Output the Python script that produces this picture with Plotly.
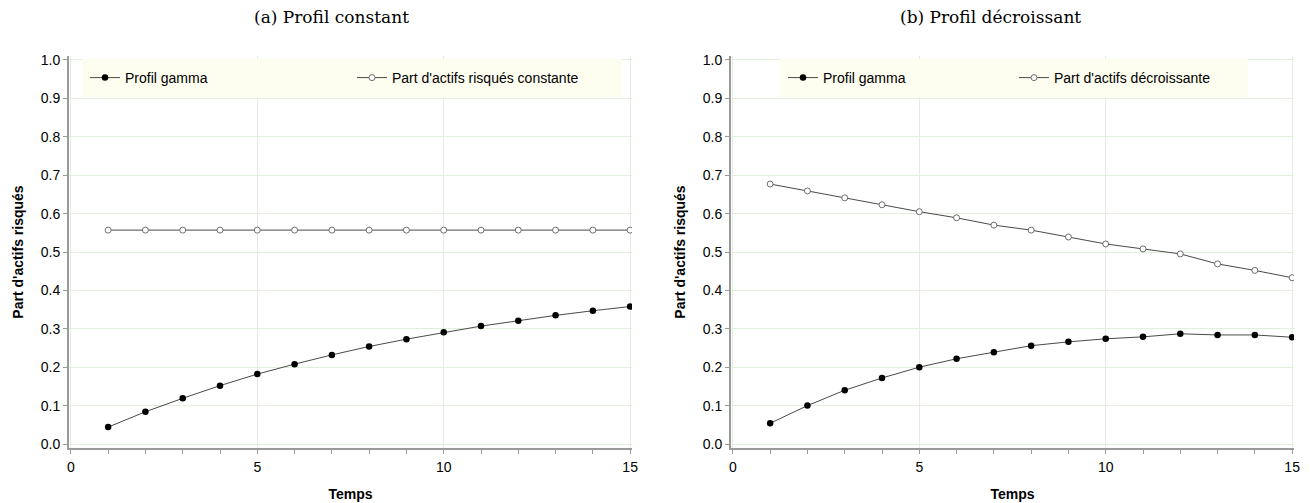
import plotly.graph_objects as go

temps = list(range(1, 16))
gamma_a = [0.044, 0.084, 0.119, 0.152, 0.182, 0.208, 0.232, 0.254, 0.273, 0.291,
           0.307, 0.321, 0.335, 0.347, 0.358]
constante = [0.557] * 15
gamma_b = [0.054, 0.100, 0.140, 0.172, 0.200, 0.222, 0.239, 0.256, 0.266, 0.274,
           0.279, 0.287, 0.284, 0.284, 0.278]
decroissante = [0.677, 0.659, 0.641, 0.623, 0.605, 0.589, 0.570, 0.557, 0.539, 0.521,
                0.508, 0.495, 0.469, 0.452, 0.433]

titles = ["(a) Profil constant", "(b) Profil décroissant"]
x_ticks = [0, 5, 10, 15]
y_ticks = [round(0.1 * i, 1) for i in range(11)]

FONT = "Liberation Sans"
LINE = "#4a4a4a"
GRID = "#e2efdf"
AXIS = "#9a9a9a"
LEG_BG = "#fdfdf0"

fig = go.Figure()

def add_pair(gamma, other, other_name, xa, ya, leg):
    fig.add_trace(go.Scatter(
        x=temps, y=gamma, mode="lines+markers", name="Profil gamma",
        line=dict(color=LINE, width=1),
        marker=dict(color="black", size=6.5, symbol="circle"),
        xaxis=xa, yaxis=ya, legend=leg))
    fig.add_trace(go.Scatter(
        x=temps, y=other, mode="lines+markers", name=other_name,
        line=dict(color=LINE, width=1),
        marker=dict(color="white", size=6, symbol="circle",
                    line=dict(color="#6e6e6e", width=1)),
        xaxis=xa, yaxis=ya, legend=leg))

add_pair(gamma_a, constante, "Part d'actifs risqués constante", "x", "y", "legend")
add_pair(gamma_b, decroissante, "Part d'actifs décroissante", "x2", "y2", "legend2")

W, H = 1310, 503
ml, mr, mt, mb = 69, 16, 56, 55
pw = W - ml - mr
ph = H - mt - mb

def px_x(p):
    return (p - ml) / pw

def px_y(p):
    return (H - mb - p) / ph

xcommon = dict(
    range=[-0.05, 15.05], tickvals=x_ticks, ticks="outside", ticklen=4, tickwidth=1,
    tickcolor=AXIS, showline=True, linecolor=AXIS, linewidth=2, showgrid=True,
    gridcolor=GRID, gridwidth=1, zeroline=False, ticklabelstandoff=1, automargin=False,
    minor=dict(dtick=1, ticks="outside", ticklen=4, tickcolor=AXIS, showgrid=False),
    tickfont=dict(family=FONT, size=14, color="black"),
    title=dict(text="<b>Temps</b>", font=dict(family=FONT, size=14, color="black"), standoff=15),
)
ycommon = dict(
    range=[-0.0104, 1.0104], tickvals=y_ticks, tickformat=".1f", ticks="outside",
    ticklen=4, tickwidth=1, tickcolor=AXIS, showline=True, linecolor=AXIS, linewidth=2,
    showgrid=True, gridcolor=GRID, gridwidth=1, zeroline=False, automargin=False,
    tickfont=dict(family=FONT, size=14, color="black"),
    title=dict(text="<b>Part d'actifs risqués</b>", font=dict(family=FONT, size=14, color="black"), standoff=14),
)

fig.update_layout(
    width=W, height=H, margin=dict(l=ml, r=mr, t=mt, b=mb),
    plot_bgcolor="white", paper_bgcolor="white",
    xaxis=dict(domain=[0, px_x(632)], anchor="y", **xcommon),
    yaxis=dict(domain=[0, 1], anchor="x", **ycommon),
    xaxis2=dict(domain=[px_x(731), 1], anchor="y2", **xcommon),
    yaxis2=dict(domain=[0, 1], anchor="x2", **ycommon),
    legend=dict(orientation="h", x=px_x(82), y=px_y(59), xanchor="left", yanchor="top",
                bgcolor=LEG_BG, bordercolor=LEG_BG, borderwidth=3,
                entrywidth=222, entrywidthmode="pixels",
                font=dict(family=FONT, size=14, color="black"), itemwidth=30),
    legend2=dict(orientation="h", x=px_x(780), y=px_y(59), xanchor="left", yanchor="top",
                 bgcolor=LEG_BG, bordercolor=LEG_BG, borderwidth=3,
                 entrywidth=186, entrywidthmode="pixels",
                 font=dict(family=FONT, size=14, color="black"), itemwidth=30),
    showlegend=True,
)

for t, cx in zip(titles, [331, 990]):
    fig.add_annotation(text=t, xref="paper", yref="paper", x=px_x(cx), y=px_y(17),
                       xanchor="center", yanchor="middle", showarrow=False,
                       font=dict(family="DejaVu Serif", size=17, color="black"))

fig.write_html("out.html", config={"displayModeBar": False},
               post_script="document.body.style.margin='0';")
